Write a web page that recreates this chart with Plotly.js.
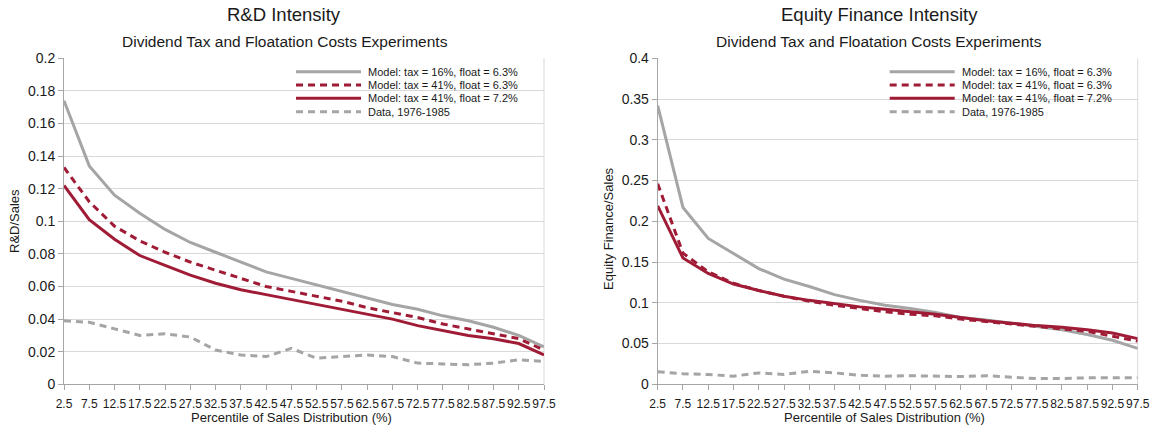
<!DOCTYPE html>
<html>
<head>
<meta charset="utf-8">
<script src="https://cdn.plot.ly/plotly-3.0.1.min.js"></script>
<style>html,body{margin:0;padding:0;background:#fff;}#chart{width:1154px;height:442px;}</style>
</head>
<body>
<div id="chart"></div>
<script>
// ---- Data ----
var percentiles = [2.5, 7.5, 12.5, 17.5, 22.5, 27.5, 32.5, 37.5, 42.5, 47.5, 52.5, 57.5, 62.5, 67.5, 72.5, 77.5, 82.5, 87.5, 92.5, 97.5];
var percentileLabels = ["2.5", "7.5", "12.5", "17.5", "22.5", "27.5", "32.5", "37.5", "42.5", "47.5", "52.5", "57.5", "62.5", "67.5", "72.5", "77.5", "82.5", "87.5", "92.5", "97.5"];

var seriesNames = ["Model: tax = 16%, float = 6.3%", "Model: tax = 41%, float = 6.3%", "Model: tax = 41%, float = 7.2%", "Data, 1976-1985"];

var rdTax16Float63 = [0.174, 0.134, 0.116, 0.105, 0.095, 0.087, 0.081, 0.075, 0.069, 0.065, 0.061, 0.057, 0.053, 0.049, 0.046, 0.042, 0.039, 0.035, 0.030, 0.023];
var rdTax41Float63 = [0.133, 0.112, 0.097, 0.088, 0.081, 0.075, 0.070, 0.065, 0.060, 0.057, 0.054, 0.051, 0.047, 0.044, 0.041, 0.037, 0.034, 0.031, 0.028, 0.021];
var rdTax41Float72 = [0.122, 0.101, 0.089, 0.079, 0.073, 0.067, 0.062, 0.058, 0.055, 0.052, 0.049, 0.046, 0.043, 0.040, 0.036, 0.033, 0.030, 0.028, 0.025, 0.018];
var rdData = [0.039, 0.038, 0.034, 0.030, 0.031, 0.029, 0.021, 0.018, 0.017, 0.022, 0.016, 0.017, 0.018, 0.017, 0.013, 0.0125, 0.012, 0.013, 0.015, 0.014];

var eqTax16Float63 = [0.342, 0.217, 0.179, 0.161, 0.142, 0.129, 0.120, 0.110, 0.103, 0.097, 0.093, 0.088, 0.082, 0.079, 0.075, 0.071, 0.067, 0.061, 0.054, 0.044];
var eqTax41Float63 = [0.246, 0.161, 0.138, 0.124, 0.115, 0.108, 0.102, 0.097, 0.093, 0.089, 0.086, 0.084, 0.080, 0.077, 0.074, 0.071, 0.068, 0.065, 0.059, 0.053];
var eqTax41Float72 = [0.219, 0.155, 0.136, 0.123, 0.115, 0.108, 0.103, 0.099, 0.095, 0.092, 0.089, 0.086, 0.082, 0.078, 0.075, 0.072, 0.070, 0.067, 0.063, 0.056];
var eqData = [0.0155, 0.013, 0.012, 0.010, 0.014, 0.012, 0.016, 0.014, 0.011, 0.010, 0.0105, 0.010, 0.0095, 0.0105, 0.0085, 0.007, 0.007, 0.008, 0.008, 0.008];

var rdTicks = [0, 0.02, 0.04, 0.06, 0.08, 0.1, 0.12, 0.14, 0.16, 0.18, 0.2];
var rdTickLabels = ["0", "0.02", "0.04", "0.06", "0.08", "0.1", "0.12", "0.14", "0.16", "0.18", "0.2"];
var eqTicks = [0, 0.05, 0.1, 0.15, 0.2, 0.25, 0.3, 0.35, 0.4];
var eqTickLabels = ["0", "0.05", "0.1", "0.15", "0.2", "0.25", "0.3", "0.35", "0.4"];

// ---- Styles ----
var W = 1154, H = 442;
var FONT = "Liberation Sans, Arial, sans-serif";
var GRAY = "#a5a5a5", RED = "#a01c36";
var styles = [
  {color: GRAY, dash: "solid"},
  {color: RED, dash: "7px,5px"},
  {color: RED, dash: "solid"},
  {color: GRAY, dash: "7px,5px"}
];
function px(x) { return x / W; }
function py(y) { return 1 - y / H; }

var rdSeries = [rdTax16Float63, rdTax41Float63, rdTax41Float72, rdData];
var eqSeries = [eqTax16Float63, eqTax41Float63, eqTax41Float72, eqData];

var traces = [];
[3, 0, 1, 2].forEach(function (i) {
  traces.push({x: percentiles, y: rdSeries[i], type: "scatter", mode: "lines", name: seriesNames[i],
    line: {color: styles[i].color, width: 3, dash: styles[i].dash}, xaxis: "x", yaxis: "y", showlegend: false, hoverinfo: "skip"});
});
[3, 0, 1, 2].forEach(function (i) {
  traces.push({x: percentiles, y: eqSeries[i], type: "scatter", mode: "lines", name: seriesNames[i],
    line: {color: styles[i].color, width: 3, dash: styles[i].dash}, xaxis: "x2", yaxis: "y2", showlegend: false, hoverinfo: "skip"});
});

var plotTop = 58.3, plotBottom = 384.3;
var leftX0 = 64, leftX1 = 544, rightX0 = 657.7, rightX1 = 1137.7;

function xAxis(domain, anchor) {
  return {
    domain: domain, anchor: anchor, range: [2.5, 97.5], tickmode: "array", tickvals: percentiles, ticktext: percentileLabels,
    tickangle: 0, showline: true, linecolor: "#a6a6a6", linewidth: 1, ticks: "outside", ticklen: 5, tickcolor: "#a6a6a6",
    ticklabelstandoff: 3,
    showgrid: false, zeroline: false, tickfont: {family: FONT, size: 12, color: "#1a1a1a"}, fixedrange: true
  };
}
function yAxis(domain, anchor, range, tv, tt) {
  return {
    domain: domain, anchor: anchor, range: range, tickmode: "array", tickvals: tv, ticktext: tt,
    showline: true, linecolor: "#a6a6a6", linewidth: 1, ticks: "outside", ticklen: 5, tickcolor: "#a6a6a6",
    showgrid: true, gridcolor: "#d9d9d9", gridwidth: 1, zeroline: false,
    tickfont: {family: FONT, size: 14, color: "#1a1a1a"}, fixedrange: true
  };
}

var yDom = [py(plotBottom), py(plotTop)];

var annotations = [];
function addText(text, x, y, size, opts) {
  var a = {text: text, x: px(x), y: py(y), xref: "paper", yref: "paper", showarrow: false,
    font: {family: FONT, size: size, color: "#1a1a1a"}, xanchor: "center", yanchor: "middle"};
  for (var k in opts) a[k] = opts[k];
  annotations.push(a);
}
// titles
addText("R&amp;D Intensity", 284, 14.4, 18.5);
addText("Dividend Tax and Floatation Costs Experiments", 285, 41.5, 15.5);
addText("Equity Finance Intensity", 879, 14.4, 18.5);
addText("Dividend Tax and Floatation Costs Experiments", 879, 41.5, 15.5);
// axis titles
addText("Percentile of Sales Distribution (%)", 291, 417, 13);
addText("Percentile of Sales Distribution (%)", 884, 417, 13);
addText("R&amp;D/Sales", 14, 221, 13, {textangle: -90});
addText("Equity Finance/Sales", 608, 229, 13, {textangle: -90});

// legends (keys + labels)
var shapes = [];
var legendRows = [71.7, 85, 98.3, 111.7];
[[296, 366], [889.7, 959.5]].forEach(function (pos) {
  for (var i = 0; i < 4; i++) {
    shapes.push({type: "line", xref: "paper", yref: "paper", x0: px(pos[0]), x1: px(pos[0] + 65), y0: py(legendRows[i]), y1: py(legendRows[i]),
      line: {color: styles[i].color, width: 3, dash: styles[i].dash}});
    addText(seriesNames[i], pos[1], legendRows[i], 11, {xanchor: "left"});
  }
});
// right border of each plot area
shapes.push({type: "line", xref: "x domain", yref: "y domain", x0: 1, x1: 1, y0: 0, y1: 1, line: {color: "#d9d9d9", width: 1}, layer: "below"});
shapes.push({type: "line", xref: "x2 domain", yref: "y2 domain", x0: 1, x1: 1, y0: 0, y1: 1, line: {color: "#d9d9d9", width: 1}, layer: "below"});

var layout = {
  width: W, height: H, margin: {l: 0, r: 0, t: 0, b: 0},
  paper_bgcolor: "#ffffff", plot_bgcolor: "#ffffff", showlegend: false,
  font: {family: FONT, color: "#1a1a1a"},
  xaxis: xAxis([px(leftX0), px(leftX1)], "y"),
  yaxis: yAxis(yDom, "x", [0, 0.2], rdTicks, rdTickLabels),
  xaxis2: xAxis([px(rightX0), px(rightX1)], "y2"),
  yaxis2: yAxis(yDom, "x2", [0, 0.4], eqTicks, eqTickLabels),
  annotations: annotations, shapes: shapes
};

Plotly.newPlot("chart", traces, layout, {displayModeBar: false, staticPlot: true});
</script>
</body>
</html>
